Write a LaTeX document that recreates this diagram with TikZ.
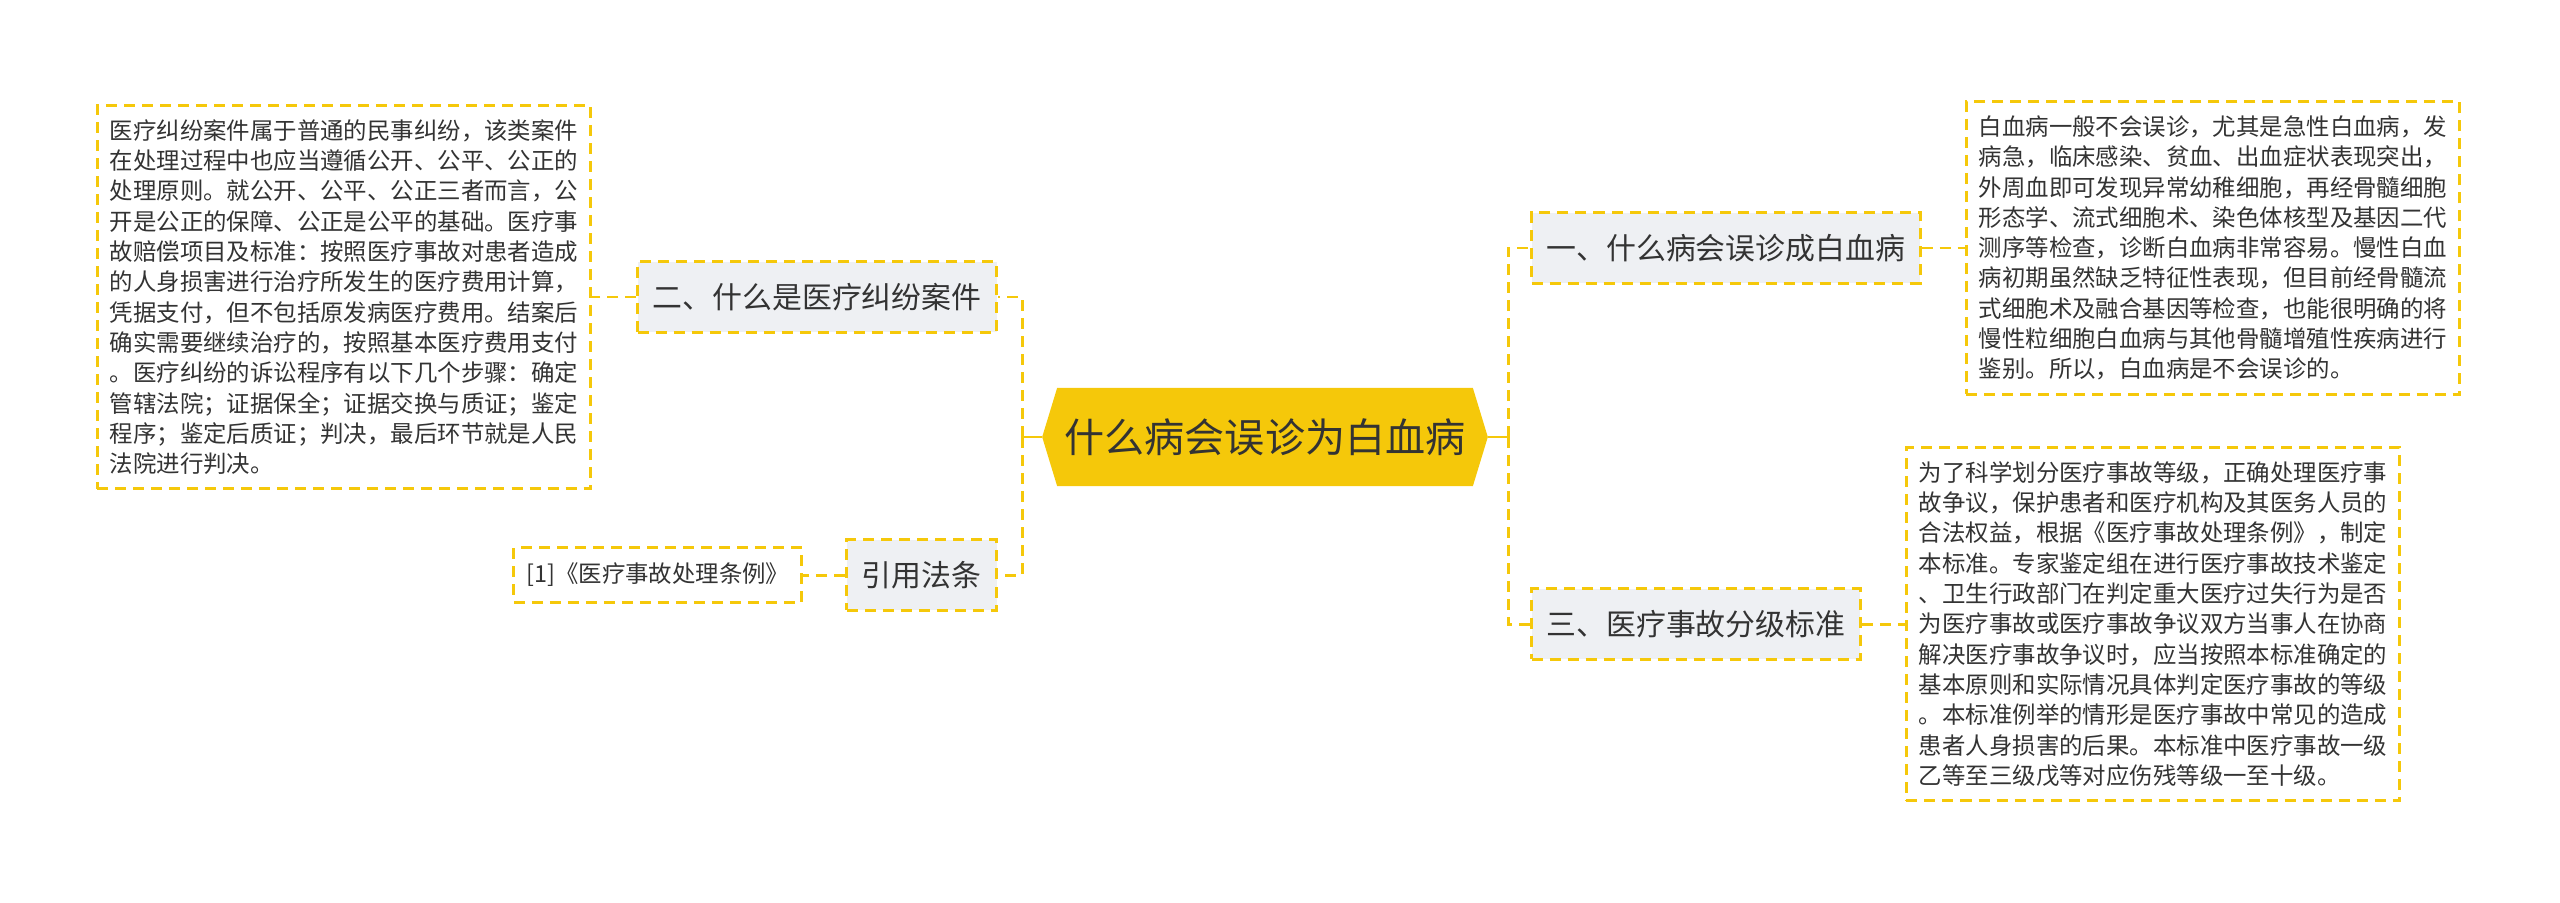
\documentclass[tikz,border=0pt]{standalone}
\usepackage{fontspec}
\setmainfont{Noto Sans CJK SC}
\usepackage{tikz}
\usetikzlibrary{calc,positioning,backgrounds}
\definecolor{myyellow}{RGB}{245,200,10}
\definecolor{mygray}{HTML}{EEF0F3}
\definecolor{mytext}{HTML}{333333}
\tikzset{
    mylink/.style={draw=myyellow,line width=0.85pt,dash pattern=on 0.11cm off 0.07cm},
    mystub/.style={draw=myyellow,line width=0.85pt},
    myroot/.style={text=mytext,font=\fontsize{11.4pt}{13pt}\selectfont,minimum width=4.14cm,minimum height=0.97cm,inner sep=0pt},
    mybranch/.style={mylink,fill=mygray,text=mytext,font=\fontsize{8.5pt}{10pt}\selectfont,minimum height=0.70cm,inner xsep=0.15cm,inner ysep=0pt},
    myleaf/.style={mylink,fill=white,text=mytext,align=left,font=\fontsize{6.66pt}{8.62pt}\selectfont,inner xsep=0.125cm,inner ysep=0.14cm}
}

\begin{document}
\begin{tikzpicture}[x=0.01cm,y=-0.01cm]
  \useasboundingbox (0,0) rectangle (2560,903);
  % centre
  \node[myroot] (root) at (1265,437) {什么病会误诊为白血病};
  \coordinate (rootL) at ($(root.west)+(-15,0)$);
  \coordinate (rootR) at ($(root.east)+(15,0)$);
  \begin{scope}[on background layer]
    \fill[myyellow] (root.north west)--(root.north east)--(rootR)--(root.south east)--(root.south west)--(rootL)--cycle;
  \end{scope}
  % right side
  \node[mybranch,anchor=west] (b1) at (1530,248) {一、什么病会误诊成白血病};
  \node[mybranch,anchor=west] (b3) at (1530,624) {三、医疗事故分级标准};
  \node[myleaf,right=0.43cm of b1] (l1) {白血病一般不会误诊，尤其是急性白血病，发\\
病急，临床感染、贫血、出血症状表现突出，\\
外周血即可发现异常幼稚细胞，再经骨髓细胞\\
形态学、流式细胞术、染色体核型及基因二代\\
测序等检查，诊断白血病非常容易。慢性白血\\
病初期虽然缺乏特征性表现，但目前经骨髓流\\
式细胞术及融合基因等检查，也能很明确的将\\
慢性粒细胞白血病与其他骨髓增殖性疾病进行\\
鉴别。所以，白血病是不会误诊的。};
  \node[myleaf,right=0.43cm of b3] (l3) {为了科学划分医疗事故等级，正确处理医疗事\\
故争议，保护患者和医疗机构及其医务人员的\\
合法权益，根据《医疗事故处理条例》，制定\\
本标准。专家鉴定组在进行医疗事故技术鉴定\\
、卫生行政部门在判定重大医疗过失行为是否\\
为医疗事故或医疗事故争议双方当事人在协商\\
解决医疗事故争议时，应当按照本标准确定的\\
基本原则和实际情况具体判定医疗事故的等级\\
。本标准例举的情形是医疗事故中常见的造成\\
患者人身损害的后果。本标准中医疗事故一级\\
乙等至三级戊等对应伤残等级一至十级。};
  % left side
  \node[mybranch,anchor=east] (b2) at (998,297) {二、什么是医疗纠纷案件};
  \node[mybranch,anchor=east] (b4) at (998,575) {引用法条};
  \node[myleaf,left=0.44cm of b2] (l2) {医疗纠纷案件属于普通的民事纠纷，该类案件\\
在处理过程中也应当遵循公开、公平、公正的\\
处理原则。就公开、公平、公正三者而言，公\\
开是公正的保障、公正是公平的基础。医疗事\\
故赔偿项目及标准：按照医疗事故对患者造成\\
的人身损害进行治疗所发生的医疗费用计算，\\
凭据支付，但不包括原发病医疗费用。结案后\\
确实需要继续治疗的，按照基本医疗费用支付\\
。医疗纠纷的诉讼程序有以下几个步骤：确定\\
管辖法院；证据保全；证据交换与质证；鉴定\\
程序；鉴定后质证；判决，最后环节就是人民\\
法院进行判决。};
  \node[myleaf,left=0.42cm of b4,minimum height=0.54cm,inner ysep=0pt] (l4) {[1]《医疗事故处理条例》};
  % connectors
  \coordinate (jR) at (1508,437);
  \coordinate (jL) at (1022,437);
  \draw[mystub] (rootR) -- (jR);
  \draw[mystub] (rootL) -- (jL);
  \foreach \b in {b1,b3}{\draw[mylink] (jR) |- (\b.west);}
  \foreach \b in {b2,b4}{\draw[mylink] (jL) |- (\b.east);}
  \draw[mylink] (b1.east) -- (l1.west);
  \draw[mylink] (b3.east) -- (l3.west);
  \draw[mylink] (b2.west) -- (l2.east);
  \draw[mylink] (b4.west) -- (l4.east);
\end{tikzpicture}
\end{document}
